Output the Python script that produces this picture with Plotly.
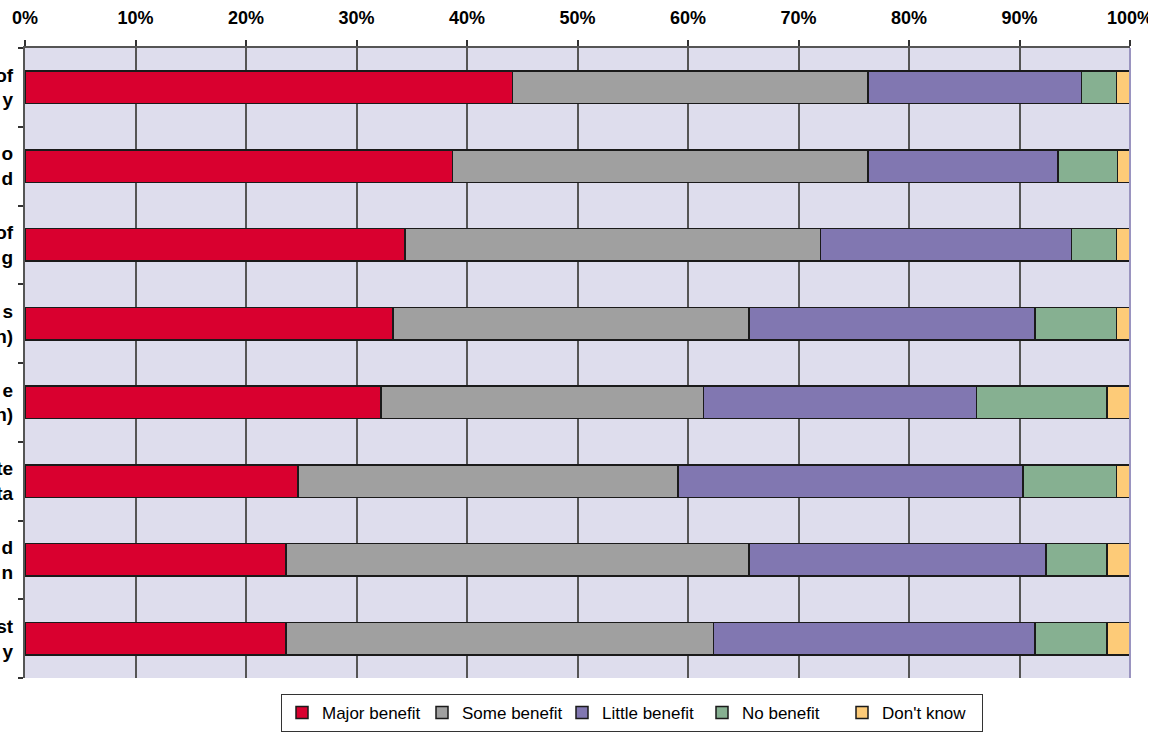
import plotly.graph_objects as go

# Category labels (only the right-hand fragments are visible in the reference)
categories = ["of<br>y", "o<br>d", "of<br>g", "s<br>n)", "e<br>n)", "te<br>ta", "d<br>n", "st<br>y"]
cat_ids = ["c1", "c2", "c3", "c4", "c5", "c6", "c7", "c8"]

series_names = ["Major benefit", "Some benefit", "Little benefit", "No benefit", "Don't know"]
major = [44.1, 38.7, 34.4, 33.3, 32.2, 24.7, 23.6, 23.6]
some = [32.2, 37.6, 37.6, 32.2, 29.2, 34.4, 41.9, 38.7]
little = [19.3, 17.2, 22.7, 25.9, 24.7, 31.2, 26.9, 29.1]
none_ = [3.2, 5.35, 4.1, 7.4, 11.8, 8.5, 5.5, 6.5]
dont_know = [1.2, 1.15, 1.2, 1.2, 2.1, 1.2, 2.1, 2.1]

x_ticks = [0, 10, 20, 30, 40, 50, 60, 70, 80, 90, 100]
x_tick_labels = ["0%", "10%", "20%", "30%", "40%", "50%", "60%", "70%", "80%", "90%", "100%"]

colors = ["#d9002f", "#a0a0a0", "#8177b1", "#86b091", "#fdcb78"]
series = [major, some, little, none_, dont_know]

fig = go.Figure()
for name, vals, col in zip(series_names, series, colors):
    fig.add_trace(go.Bar(
        y=cat_ids, x=vals, name=name, orientation="h",
        marker=dict(color=col, line=dict(color="#1a1a1a", width=1.5)),
    ))

font_family = "Liberation Sans, Arial, sans-serif"

fig.update_layout(
    width=1165, height=735,
    barmode="stack", bargap=0.59,
    paper_bgcolor="white", plot_bgcolor="#dedded",
    margin=dict(l=25, r=35, t=48, b=57, autoexpand=False),
    font=dict(family=font_family, color="black"),
    legend=dict(
        orientation="h", x=(281 - 25) / 1105, xanchor="left", y=(678 - 694) / 630, yanchor="top",
        bgcolor="white", bordercolor="#333333", borderwidth=1,
        font=dict(size=17, family=font_family, color="black"),
        traceorder="normal", entrywidth=95, entrywidthmode="pixels",
    ),
    xaxis=dict(
        side="top", range=[0, 100], tickvals=x_ticks, ticktext=x_tick_labels,
        showgrid=True, gridcolor="#555555", gridwidth=1.5,
        ticks="outside", ticklen=6, tickcolor="#333333", tickwidth=1.5,
        showline=True, linecolor="#555555", linewidth=1.5,
        tickfont=dict(size=18, family=font_family, weight="bold", color="black"),
        ticklabelstandoff=9,
        zeroline=False, fixedrange=True,
    ),
    yaxis=dict(
        categoryorder="array", categoryarray=cat_ids,
        tickvals=cat_ids, ticktext=categories,
        autorange="reversed", tickson="boundaries",
        ticks="outside", ticklen=5, tickcolor="#333333", tickwidth=1.5,
        showline=True, linecolor="#555555", linewidth=2,
        showgrid=False, automargin=False, ticklabelstandoff=6,
        tickfont=dict(size=19, family=font_family, weight="bold", color="black"),
    ),
    shapes=[
        dict(type="line", xref="paper", yref="paper", x0=1, x1=1, y0=0, y1=1,
             line=dict(color="#9a94c0", width=2), layer="above"),
        dict(type="rect", xref="paper", yref="paper", x0=(1148 - 25) / 1105, x1=1.05,
             y0=1.0, y1=1.2, fillcolor="white", line=dict(width=0), layer="above"),
    ],
)

fig.write_html("out.html")
